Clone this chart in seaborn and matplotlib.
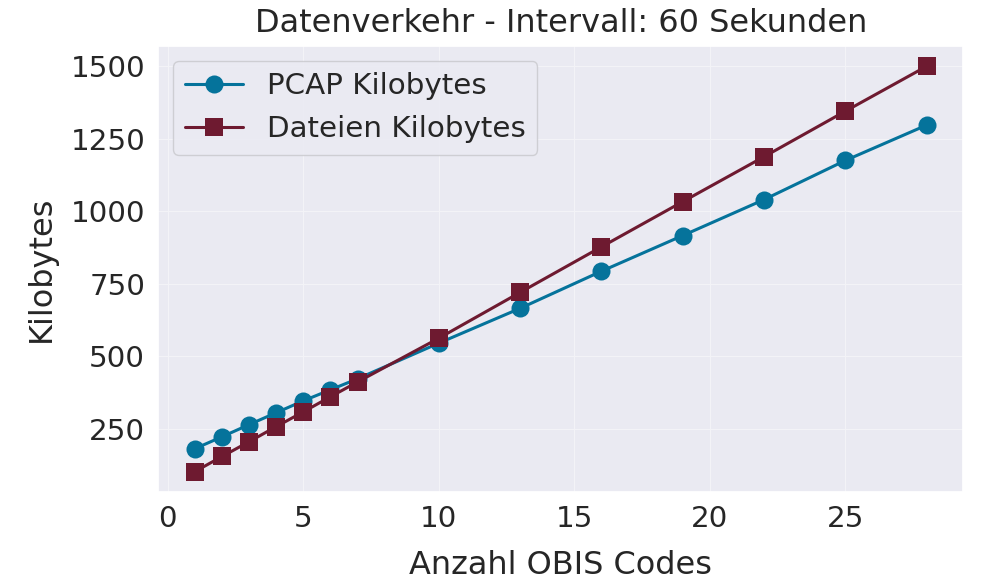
import pandas as pd
import seaborn as sns
import matplotlib.pyplot as plt

# Data
obis_codes = [1, 2, 3, 4, 5, 6, 7, 10, 13, 16, 19, 22, 25, 28]
pcap_kb = [181, 222, 264, 305, 346, 384, 422, 545, 665, 793, 916, 1040, 1175, 1297]
dateien_kb = [102, 154, 205, 257, 308, 360, 411, 562, 720, 877, 1033, 1188, 1345, 1500]

df = pd.DataFrame({
    "Anzahl OBIS Codes": obis_codes * 2,
    "Kilobytes": pcap_kb + dateien_kb,
    "Serie": ["PCAP Kilobytes"] * len(obis_codes) + ["Dateien Kilobytes"] * len(obis_codes),
})

sns.set_theme(style="darkgrid", font_scale=1.92,
              rc={"grid.linewidth": 0.7, "grid.color": "#f4f4f8"})

fig, ax = plt.subplots(figsize=(9.9, 5.82), dpi=100)

sns.lineplot(
    data=df,
    x="Anzahl OBIS Codes",
    y="Kilobytes",
    hue="Serie",
    style="Serie",
    markers=["o", "s"],
    dashes=False,
    palette=["#05739b", "#6e1a30"],
    linewidth=2.2,
    markersize=13,
    markeredgewidth=0,
    ax=ax,
)

ax.set_yticks([250, 500, 750, 1000, 1250, 1500])
ax.set_title("Datenverkehr - Intervall: 60 Sekunden", pad=10)
ax.set_xlabel("Anzahl OBIS Codes", labelpad=12)
ax.set_ylabel("Kilobytes", labelpad=10)
leg = ax.legend(loc="upper left")
leg.get_frame().set_edgecolor("#c8c8cc")

plt.subplots_adjust(left=0.16, right=0.973, top=0.921, bottom=0.155)
plt.savefig("out.png")
